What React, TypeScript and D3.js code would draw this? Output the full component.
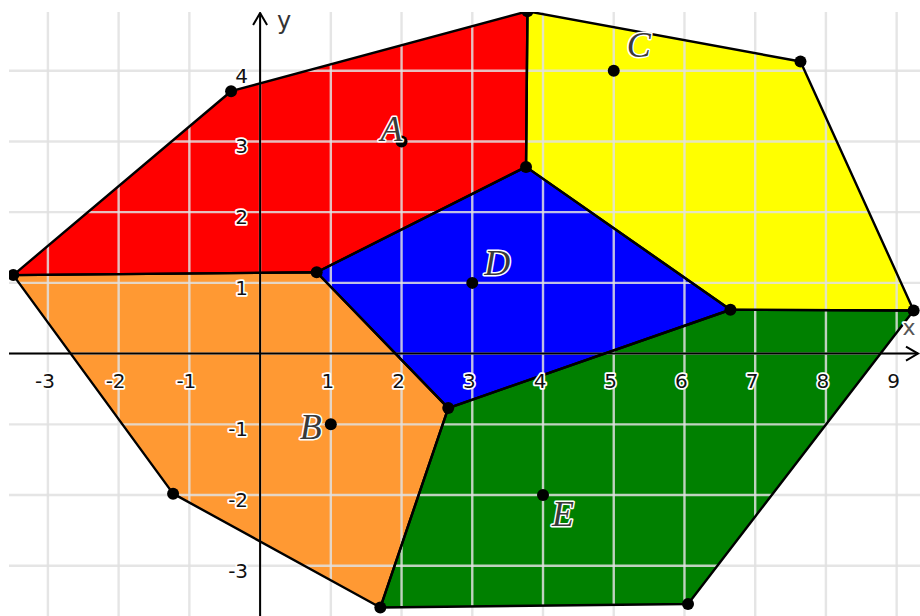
import { useEffect, useRef } from "react";
import * as d3 from "d3";

// voronoi-ish cells (graph units)
const vertexNames = ["P1", "P2", "P3", "P4", "P5", "P6", "P7", "P8", "P9", "P10", "P11", "P12"];
const vertexX = [-3.49, -0.41, 3.78, 7.64, 9.24, 6.65, 3.76, 0.8, 2.66, -1.23, 1.7, 6.05];
const vertexY = [1.11, 3.71, 4.84, 4.13, 0.61, 0.62, 2.64, 1.15, -0.77, -1.98, -3.59, -3.54];

const cellNames = ["A", "C", "D", "B", "E"];
const cellColors = ["#ff0000", "#ffff00", "#0000ff", "#ff9933", "#008000"];
const cellVertices = [
  ["P1", "P2", "P3", "P7", "P8"],
  ["P3", "P4", "P5", "P6", "P7"],
  ["P8", "P7", "P6", "P9"],
  ["P1", "P8", "P9", "P11", "P10"],
  ["P9", "P6", "P5", "P12", "P11"],
];

const seedNames = ["A", "B", "C", "D", "E"];
const seedX = [2, 1, 5, 3, 4];
const seedY = [3, -1, 4, 1, -2];

const xTicks = [-3, -2, -1, 1, 2, 3, 4, 5, 6, 7, 8, 9];
const yTicks = [-3, -2, -1, 1, 2, 3, 4];
const gridX = d3.range(-3, 10);
const gridY = d3.range(-3, 5);

// label nudges in px (text centre / baseline relative to the point)
const labelOffset: Record<string, [number, number]> = {
  A: [-10, 0],
  B: [-20, 15],
  C: [25, -14],
  D: [25, -8],
  E: [20, 31],
};

const W = 920;
const H = 616;
const left = 9;
const top = 12;

function App() {
  const ref = useRef<SVGSVGElement | null>(null);

  useEffect(() => {
    const svg = d3.select(ref.current);
    svg.selectAll("*").remove();

    const x = d3.scaleLinear().domain([-3.55, 9.33]).range([left, W]);
    const y = d3.scaleLinear().domain([-3.71, 4.83]).range([H, top]);

    svg.append("defs")
      .append("clipPath")
      .attr("id", "view")
      .append("rect")
      .attr("x", left)
      .attr("y", top)
      .attr("width", W - left)
      .attr("height", H - top);

    const g = svg.append("g").attr("clip-path", "url(#view)");

    g.append("rect")
      .attr("x", left).attr("y", top)
      .attr("width", W - left).attr("height", H - top)
      .attr("fill", "#fff");

    const pt = (name: string): [number, number] => {
      const i = vertexNames.indexOf(name);
      return [x(vertexX[i]), y(vertexY[i])];
    };
    const line = d3.line();

    // fills
    g.selectAll("path.cell")
      .data(cellNames)
      .join("path")
      .attr("class", "cell")
      .attr("d", (_, i) => line(cellVertices[i].map(pt)) + "Z")
      .attr("fill", (_, i) => cellColors[i])
      .attr("stroke", "none");

    // grid over the fills
    const grid = g.append("g")
      .attr("stroke", "#e0e0e0")
      .attr("stroke-opacity", 0.85)
      .attr("stroke-width", 2.4);
    grid.selectAll("line.gx")
      .data(gridX)
      .join("line")
      .attr("x1", (d) => x(d)).attr("x2", (d) => x(d))
      .attr("y1", top).attr("y2", H);
    grid.selectAll("line.gy")
      .data(gridY)
      .join("line")
      .attr("y1", (d) => y(d)).attr("y2", (d) => y(d))
      .attr("x1", left).attr("x2", W);

    // axes
    const ax = g.append("g").attr("stroke", "#000").attr("stroke-width", 2).attr("fill", "none");
    ax.append("line").attr("x1", left).attr("x2", W - 2).attr("y1", y(0)).attr("y2", y(0));
    ax.append("line").attr("x1", x(0)).attr("x2", x(0)).attr("y1", H).attr("y2", top + 1);
    ax.append("path").attr("d", `M${x(0) - 7},${top + 13}L${x(0)},${top + 1}L${x(0) + 7},${top + 13}`);
    ax.append("path").attr("d", `M${W - 14},${y(0) - 7}L${W - 2},${y(0)}L${W - 14},${y(0) + 7}`);

    // cell edges
    g.selectAll("path.edge")
      .data(cellNames)
      .join("path")
      .attr("class", "edge")
      .attr("d", (_, i) => line(cellVertices[i].map(pt)) + "Z")
      .attr("fill", "none")
      .attr("stroke", "#000")
      .attr("stroke-width", 2.4)
      .attr("stroke-linejoin", "round");

    // tick labels
    const tickText = g.append("g")
      .attr("font-family", "'DejaVu Sans', sans-serif")
      .attr("font-size", 20)
      .attr("fill", "#111")
      .attr("stroke", "#fff")
      .attr("stroke-width", 3.5)
      .attr("paint-order", "stroke")
      .attr("stroke-linejoin", "round");
    tickText.selectAll("text.tx")
      .data(xTicks)
      .join("text")
      .attr("x", (d) => x(d) - 3)
      .attr("y", y(0) + 34)
      .attr("text-anchor", "middle")
      .text((d) => (d < 0 ? "-" + Math.abs(d) : String(d)));
    tickText.selectAll("text.ty")
      .data(yTicks)
      .join("text")
      .attr("x", x(0) - 12)
      .attr("y", (d) => y(d) + 12)
      .attr("text-anchor", "end")
      .text((d) => (d < 0 ? "-" + Math.abs(d) : String(d)));
    tickText.append("text").attr("x", x(0) + 24).attr("y", top + 17).attr("text-anchor", "middle").attr("font-size", 24).attr("fill", "#333").text("y");
    tickText.append("text").attr("x", W - 11).attr("y", y(0) - 19).attr("text-anchor", "middle").attr("font-size", 22).attr("fill", "#555").text("x");

    // dots
    g.selectAll("circle.v")
      .data(vertexNames)
      .join("circle")
      .attr("cx", (d) => pt(d)[0])
      .attr("cy", (d) => pt(d)[1])
      .attr("r", 6)
      .attr("fill", "#000");
    g.selectAll("circle.s")
      .data(seedNames)
      .join("circle")
      .attr("cx", (_, i) => x(seedX[i]))
      .attr("cy", (_, i) => y(seedY[i]))
      .attr("r", 6)
      .attr("fill", "#000");

    // point labels
    g.selectAll("text.lbl")
      .data(seedNames)
      .join("text")
      .attr("x", (d, i) => x(seedX[i]) + labelOffset[d][0])
      .attr("y", (d, i) => y(seedY[i]) + labelOffset[d][1])
      .attr("text-anchor", "middle")
      .attr("font-family", "'Liberation Serif', serif")
      .attr("font-style", "italic")
      .attr("font-size", 36)
      .attr("fill", "#3a3a3a")
      .attr("stroke", "#fff")
      .attr("stroke-width", 3)
      .attr("paint-order", "stroke")
      .attr("stroke-linejoin", "round")
      .text((d) => d);
  }, []);

  return (
    <svg
      ref={ref}
      width={W}
      height={H}
      style={{ position: "absolute", left: 0, top: 0, background: "#fff" }}
    />
  );
}

export default App;
